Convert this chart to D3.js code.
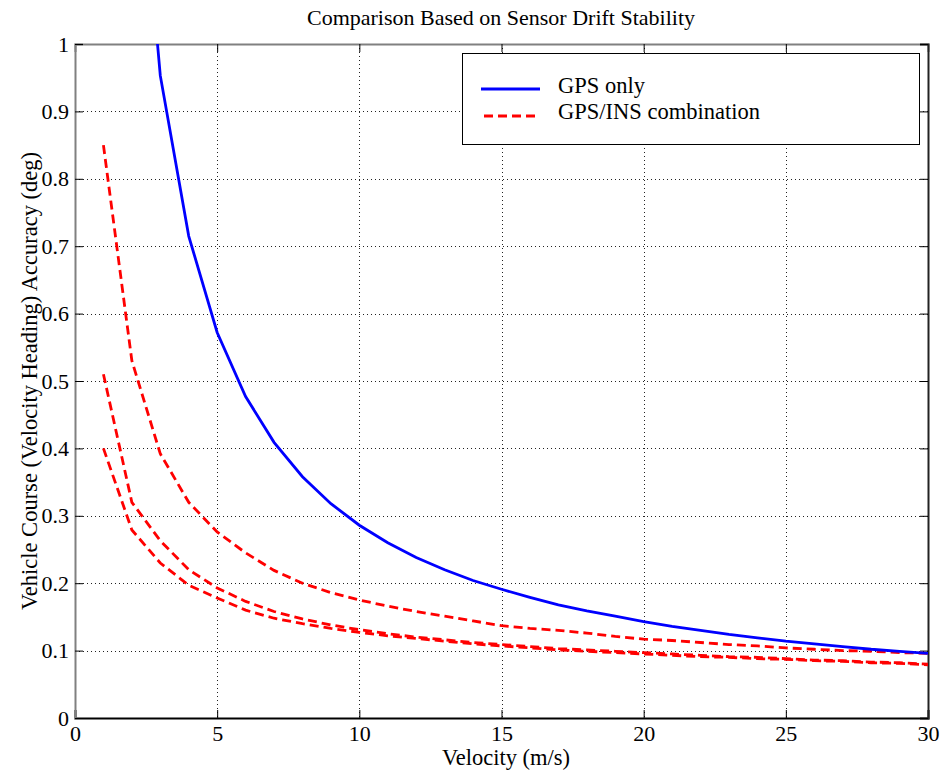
<!DOCTYPE html>
<html>
<head>
<meta charset="utf-8">
<script src="https://cdn.jsdelivr.net/npm/d3@7"></script>
<style>
  html, body { margin: 0; padding: 0; background: #fff; }
  svg { display: block; }
  svg text { font-family: "Liberation Serif", "Times New Roman", serif !important; }
</style>
</head>
<body>
<svg id="chart" width="940" height="774"></svg>
<script>
const velocity = [1,2,3,4,5,6,7,8,9,10,11,12,13,14,15,16,17,18,19,20,21,22,23,24,25,26,27,28,29,30];
const gpsOnly = [2.86,1.43,0.953,0.715,0.572,0.477,0.409,0.358,0.318,0.286,0.260,0.238,0.220,0.204,0.191,0.179,0.168,0.159,0.151,0.143,0.136,0.130,0.124,0.119,0.114,0.110,0.106,0.102,0.099,0.096];
const insA = [0.85,0.53,0.392,0.320,0.276,0.245,0.219,0.200,0.186,0.175,0.166,0.158,0.151,0.144,0.137,0.133,0.130,0.126,0.121,0.117,0.115,0.112,0.109,0.107,0.104,0.102,0.100,0.099,0.097,0.096];
const insB = [0.51,0.32,0.263,0.220,0.193,0.173,0.158,0.147,0.138,0.131,0.125,0.120,0.116,0.112,0.109,0.106,0.103,0.101,0.099,0.097,0.095,0.093,0.091,0.090,0.088,0.086,0.085,0.083,0.082,0.080];
const insC = [0.40,0.279,0.230,0.197,0.178,0.160,0.148,0.140,0.133,0.127,0.122,0.118,0.114,0.110,0.107,0.104,0.101,0.099,0.097,0.095,0.093,0.091,0.090,0.088,0.087,0.085,0.084,0.082,0.081,0.079];
const xTicks = [0,5,10,15,20,25,30];
const yTicks = [0,0.1,0.2,0.3,0.4,0.5,0.6,0.7,0.8,0.9,1];
const legendLabels = ["GPS only", "GPS/INS combination"];

const FONT = "Liberation Serif";
const svg = d3.select("#chart");
const L = 75, R = 928, T = 44, B = 718;
const x = d3.scaleLinear().domain([0,30]).range([L,R]);
const y = d3.scaleLinear().domain([0,1]).range([B,T]);

svg.append("defs").append("clipPath").attr("id","clip")
  .append("rect").attr("x",L).attr("y",T).attr("width",R-L).attr("height",B-T);

// grid
const grid = svg.append("g").attr("stroke","#222").attr("stroke-width",1).attr("stroke-dasharray","1,3");
grid.selectAll("line.gx").data(xTicks.slice(1,-1)).enter().append("line")
  .attr("x1",d=>Math.round(x(d))+0.5).attr("x2",d=>Math.round(x(d))+0.5).attr("y1",T).attr("y2",B);
grid.selectAll("line.gy").data(yTicks.slice(1,-1)).enter().append("line")
  .attr("y1",d=>Math.round(y(d))+0.5).attr("y2",d=>Math.round(y(d))+0.5).attr("x1",L).attr("x2",R);

// axes
const tickLen = 8;
const xAxisB = d3.axisBottom(x).tickValues(xTicks).tickSize(-tickLen).tickPadding(7).tickFormat(d3.format("d"));
const xAxisT = d3.axisTop(x).tickValues(xTicks).tickSize(-tickLen).tickFormat("");
const yAxisL = d3.axisLeft(y).tickValues(yTicks).tickSize(-tickLen).tickPadding(6).tickFormat(d=> d===0?"0":d===1?"1":d3.format(".1f")(d));
const yAxisR = d3.axisRight(y).tickValues(yTicks).tickSize(-tickLen).tickFormat("");

function styleAxis(g, color){
  g.attr("font-family", FONT).attr("font-size", 22);
  g.select(".domain").attr("stroke",color).attr("stroke-width",2);
  g.selectAll(".tick line").attr("stroke","#000").attr("stroke-width",1);
  g.selectAll(".tick text").attr("fill","#000").style("font-family",FONT).style("font-size","22px");
}
svg.append("g").attr("transform",`translate(0,${B})`).call(xAxisB).call(g=>styleAxis(g,"#000"));
svg.append("g").attr("transform",`translate(0,${T})`).call(xAxisT).call(g=>styleAxis(g,"#808080"));
svg.append("g").attr("transform",`translate(${L},0)`).call(yAxisL).call(g=>styleAxis(g,"#808080"));
svg.append("g").attr("transform",`translate(${R},0)`).call(yAxisR).call(g=>styleAxis(g,"#222"));

// lines
const line = d3.line().x((d,i)=>x(velocity[i])).y(d=>y(d));
const plot = svg.append("g").attr("clip-path","url(#clip)");
[insA, insB, insC].forEach(s=>{
  plot.append("path").datum(s).attr("d",line).attr("fill","none")
    .attr("stroke","#ff0000").attr("stroke-width",2.8).attr("stroke-dasharray","9,5");
});
plot.append("path").datum(gpsOnly).attr("d",line).attr("fill","none")
  .attr("stroke","#0000ff").attr("stroke-width",2.8);

// legend
const lg = svg.append("g");
lg.append("rect").attr("x",462.5).attr("y",53.5).attr("width",457).attr("height",91)
  .attr("fill","#fff").attr("stroke","#000").attr("stroke-width",1);
lg.append("line").attr("x1",481).attr("x2",540).attr("y1",89).attr("y2",89)
  .attr("stroke","#0000ff").attr("stroke-width",2.8);
lg.append("line").attr("x1",484).attr("x2",540).attr("y1",116).attr("y2",116)
  .attr("stroke","#ff0000").attr("stroke-width",2.8).attr("stroke-dasharray","9,5");
lg.selectAll("text").data(legendLabels).enter().append("text")
  .attr("x",558).attr("y",(d,i)=>93+i*25.5).style("font-family",FONT).style("font-size","22.5px").attr("fill","#000").text(d=>d);

// title and labels
svg.append("text").attr("x",501).attr("y",25).attr("text-anchor","middle").style("font-family",FONT).style("font-size","22px")
  .text("Comparison Based on Sensor Drift Stability");
svg.append("text").attr("x",506).attr("y",765).attr("text-anchor","middle").style("font-family",FONT).style("font-size","22.5px")
  .text("Velocity (m/s)");
svg.append("text").attr("transform",`translate(37,${(T+B)/2}) rotate(-90)`).attr("text-anchor","middle").style("font-family",FONT).style("font-size","22.5px")
  .text("Vehicle Course (Velocity Heading) Accuracy (deg)");
</script>
</body>
</html>
